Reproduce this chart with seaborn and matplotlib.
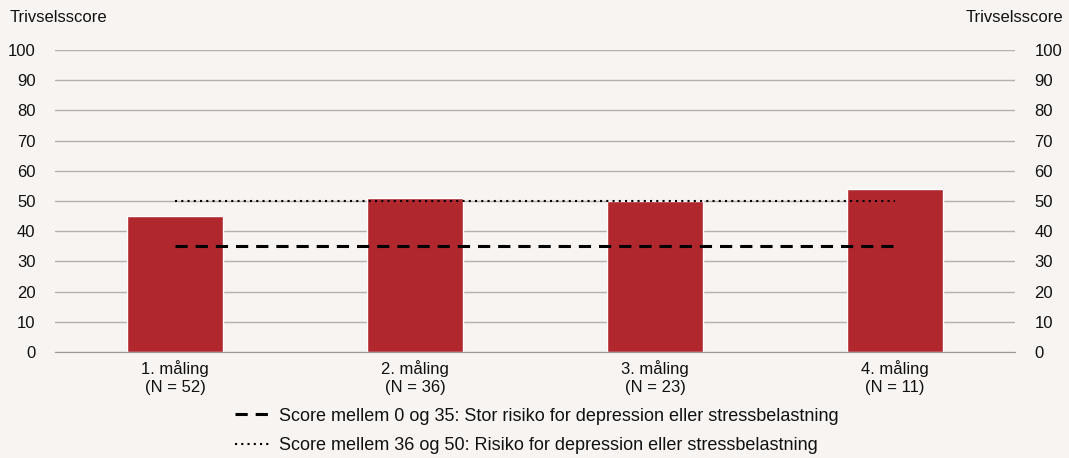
import numpy as np
import matplotlib
matplotlib.use("Agg")
import matplotlib.pyplot as plt
import seaborn as sns
from matplotlib.lines import Line2D

categories = ["1. måling\n(N = 52)", "2. måling\n(N = 36)", "3. måling\n(N = 23)", "4. måling\n(N = 11)"]
scores = [45, 51, 50, 54]
limit_high_risk = [35, 35, 35, 35]
limit_risk = [50, 50, 50, 50]
yticks = list(range(0, 101, 10))

sns.set_style("white")
plt.rcParams["font.family"] = ["Liberation Sans", "DejaVu Sans"]
plt.rcParams["text.color"] = "#111111"
plt.rcParams["xtick.color"] = "#111111"
plt.rcParams["ytick.color"] = "#111111"
bg = "#F7F4F2"

fig = plt.figure(figsize=(10.69, 4.58), dpi=100, facecolor=bg)
ax = fig.add_axes([55 / 1069, 1 - 352 / 458, 960 / 1069, 302 / 458])
ax.set_facecolor(bg)

sns.barplot(x=categories, y=scores, color="#B0282E", width=0.4, saturation=1, ax=ax, zorder=2)
sns.lineplot(x=categories, y=limit_high_risk, color="black", lw=2.2, ax=ax, zorder=3)
ax.lines[-1].set_linestyle((0, (4, 2.6)))
sns.lineplot(x=categories, y=limit_risk, color="black", lw=1.5, ax=ax, zorder=3)
ax.lines[-1].set_linestyle((0, (1, 2)))

ax.set_xlim(-0.5, 3.5)
ax.set_ylim(0, 100)
ax.set_yticks(yticks)
ax.yaxis.grid(True, color="#B3B0AE", lw=1)
ax.set_axisbelow(True)
for s in ["left", "right", "top"]:
    ax.spines[s].set_visible(False)
ax.spines["bottom"].set_color("#9A9896")
ax.spines["bottom"].set_zorder(4)
ax.tick_params(axis="y", length=0, labelsize=12, pad=14, labelright=True, labelleft=True)
ax.tick_params(axis="x", which="major", length=0, labelsize=12, pad=6)
ax.set_xticks([0.5, 1.5, 2.5], minor=True)
ax.tick_params(axis="x", which="minor", length=5, color="#555555", direction="out")
ax.set_xlabel("")

fig.text(10 / 1069, 1 - 17 / 458, "Trivselsscore", fontsize=12, va="center", ha="left")
fig.text(1063 / 1069, 1 - 17 / 458, "Trivselsscore", fontsize=12, va="center", ha="right")

handles = [
    Line2D([], [], color="black", lw=2.2, ls=(0, (4, 2.6))),
    Line2D([], [], color="black", lw=1.5, ls=(0, (1, 2))),
]
labels = [
    "Score mellem 0 og 35: Stor risiko for depression eller stressbelastning",
    "Score mellem 36 og 50: Risiko for depression eller stressbelastning",
]
leg = fig.legend(handles, labels, loc="center", bbox_to_anchor=(537 / 1069, 1 - 431 / 458),
                 frameon=False, fontsize=13, handlelength=2.0, handletextpad=0.45,
                 labelspacing=0.7, alignment="left", borderpad=0, borderaxespad=0)

fig.savefig("out.png", dpi=100, facecolor=bg)
